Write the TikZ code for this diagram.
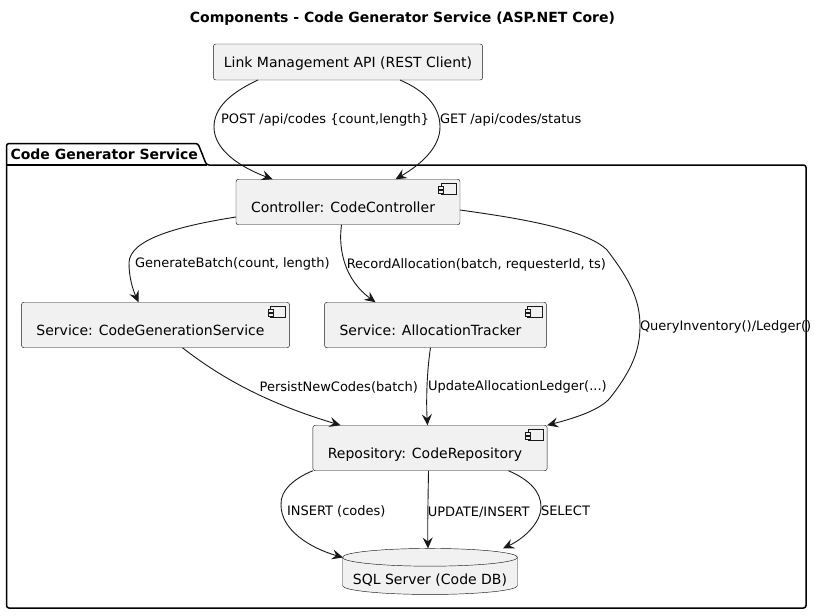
\documentclass[tikz,border=0pt]{standalone}
\usepackage{fontspec}
\setmainfont{DejaVu Sans}
\usepackage{xcolor}
\usepackage{tikz}
\usetikzlibrary{positioning, shapes.geometric, arrows.meta}
\definecolor{boxfill}{HTML}{F1F1F1}
\definecolor{boxline}{HTML}{181818}
\tikzstyle{every node}=[font=\fontsize{14pt}{16pt}\selectfont, outer sep=0pt]
\tikzstyle{client} = [rectangle, rounded corners=2.5pt, inner ysep=0pt, inner xsep=10.5pt, text height=24pt, text depth=12pt, draw=boxline, line width=0.45pt, fill=boxfill]
\tikzstyle{component} = [rectangle, rounded corners=2.5pt, inner ysep=0pt, inner xsep=15pt, text height=33pt, text depth=12.5pt, draw=boxline, line width=0.45pt, fill=boxfill, execute at end node={\hspace*{10pt}}]
\tikzstyle{icon} = [draw=boxline, line width=0.45pt, fill=boxfill]
\tikzstyle{database} = [cylinder, shape border rotate=90, aspect=.115, minimum width=175pt, minimum height=19pt, inner sep=0pt, text height=12pt, text depth=7.2pt, draw=boxline, line width=0.45pt, fill=boxfill]
\tikzstyle{arrow} = [line width=0.9pt, color=boxline, ->, >={Stealth[length=11pt, width=10pt, inset=4pt]}]
\tikzstyle{edgelabel} = [font=\fontsize{13pt}{15pt}\selectfont, anchor=west, inner sep=0pt, text height=8pt, text depth=0pt, text=black]
\tikzstyle{heading} = [font=\bfseries\fontsize{14pt}{16pt}\selectfont, inner sep=0pt, text height=8pt, text depth=0pt]
\tikzstyle{frame} = [line width=1.5pt, draw=black, rounded corners=2.5pt]

\begin{document}
\begin{tikzpicture}[x=1pt, y=-1pt, node distance=123pt]
	\useasboundingbox (0,0) rectangle (818,615);
	% package frame
	\draw [frame] (6.5,165) -- (6.5,143.5) -- (198,143.5) -- (206.5,165) -- (806,165) -- (806,608) -- (6.5,608) -- cycle;
	\draw [line width=1.5pt] (6.5,165) -- (206.5,165);
	\node (pkgtitle) [heading, anchor=west] at (10.5,155) {Code Generator Service};
	\node (title) [heading] at (402.5,19) {Components - Code Generator Service (ASP.NET Core)};
	\node (api) [client] at (348,62) {Link Management API (REST Client)};
	\node (ctrl) [component, below of=api, yshift=-17pt] {Controller: CodeController};
	\node (gen) [component, below of=ctrl, xshift=-192.5pt] {Service: CodeGenerationService};
	\node (track) [component, below of=ctrl, xshift=87.5pt] {Service: AllocationTracker};
	\node (repo) [component, below of=track, xshift=-5.5pt] {Repository: CodeRepository};
	\node (db) [database, below of=repo, yshift=-5pt] {\smash{\raisebox{-6pt}{SQL Server (Code DB)}}};
	% component icons
	\foreach \n in {ctrl,gen,track,repo} {
		\draw [icon] ([xshift=-4pt,yshift=-4pt]\n.north east) rectangle ([xshift=-19pt,yshift=-15pt]\n.north east);
		\draw [icon] ([xshift=-16.5pt,yshift=-6.5pt]\n.north east) rectangle ([xshift=-21.5pt,yshift=-9.5pt]\n.north east);
		\draw [icon] ([xshift=-16.5pt,yshift=-10.5pt]\n.north east) rectangle ([xshift=-21.5pt,yshift=-13.5pt]\n.north east);
	}
	\draw [arrow] ([xshift=-90pt]api.south) .. controls (230,93) and (214,108) .. node [edgelabel, pos=1, xshift=7pt, yshift=7pt] (lblpost) {POST /api/codes \{count,length\}} (214,127) .. controls (214,150) and (240,167) .. ([xshift=-75.5pt]ctrl.north);
	\draw [arrow] ([xshift=52pt]api.south) .. controls (430,93) and (440,110) .. node [edgelabel, pos=1, yshift=7pt] (lblget) {GET /api/codes/status} (440,127) .. controls (440,148) and (420,165) .. ([xshift=47.5pt]ctrl.north);
	\draw [arrow] ([yshift=-15pt]ctrl.west) .. controls (185,225) and (129,238) .. node [edgelabel, pos=1, xshift=6pt] (lblbatch) {GenerateBatch(count, length)} (129,263) .. controls (129,278) and (133,290) .. ([xshift=-17pt]gen.north);
	\draw [arrow] ([xshift=-6.5pt]ctrl.south) .. controls (338,250) and (345,280) .. node [edgelabel, pos=.5, xshift=1pt] (lblrecord) {RecordAllocation(batch, requesterId, ts)} ([xshift=-60pt]track.north);
	\draw [arrow] ([yshift=-8pt]ctrl.east) .. controls (510,217) and (585,228) .. (607,250) .. controls (630,280) and (640,300) .. node [edgelabel, pos=1] (lblquery) {QueryInventory()/Ledger()} (640,326) .. controls (640,350) and (632,370) .. (610,398) .. controls (600,410) and (575,418) .. (repo.north east);
	\draw [arrow] ([xshift=27pt]gen.south) .. controls (230,385) and (280,407) .. node [edgelabel, pos=.5, xshift=3pt, yshift=6pt] (lblpersist) {PersistNewCodes(batch)} ([xshift=-89.5pt]repo.north);
	\draw [arrow] ([xshift=-5pt]track.south) .. controls (427,370) and (426,400) .. node [edgelabel, pos=.5, xshift=1pt, yshift=-1pt] (lblledger) {UpdateAllocationLedger(...)} ([xshift=-2.5pt]repo.north);
	\draw [arrow] (repo.south west) .. controls (295,478) and (280,490) .. node [edgelabel, pos=1, xshift=6pt, yshift=-6pt] (lblinsert) {INSERT (codes)} (281,505) .. controls (281,530) and (310,548) .. ([xshift=-87pt,yshift=-9pt]db.north);
	\draw [arrow] ([xshift=-1.5pt]repo.south) .. controls (428,500) and (427.5,530) .. node [edgelabel, pos=.5, yshift=1pt] (lblupdate) {UPDATE/INSERT} ([xshift=-2pt]db.north);
	\draw [arrow] ([xshift=78.5pt]repo.south) .. controls (530,480) and (541,492) .. node [edgelabel, pos=1, yshift=-4pt] (lblselect) {SELECT} (541,507) .. controls (541,522) and (525,538) .. ([xshift=73pt]db.north);
\end{tikzpicture}
\end{document}
